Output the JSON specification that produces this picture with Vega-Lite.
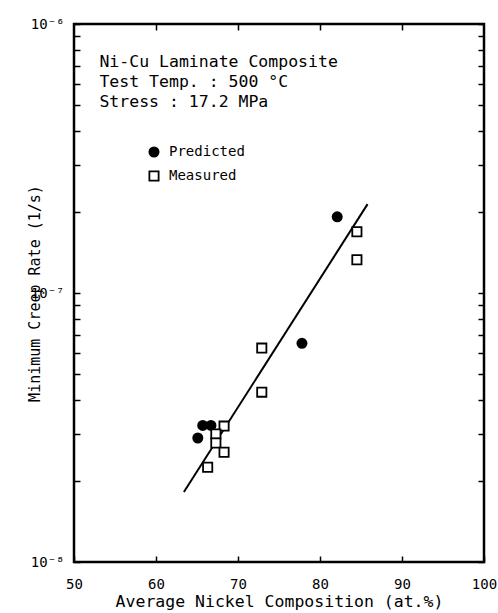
{
  "$schema": "https://vega.github.io/schema/vega-lite/v6.json",
  "width": 410,
  "height": 538,
  "autosize": {"type": "none"},
  "padding": {"left": 74, "top": 24, "right": 14, "bottom": 51},
  "background": "white",
  "config": {
    "view": {"stroke": "black", "strokeWidth": 2.5},
    "font": "DejaVu Sans Mono",
    "axis": {
      "domain": false,
      "grid": false,
      "tickColor": "black",
      "tickWidth": 1.5,
      "tickSize": -6,
      "labelColor": "black",
      "labelFont": "DejaVu Sans Mono",
      "labelFontSize": 14,
      "labelOverlap": false,
      "labelFlush": false,
      "titleColor": "black",
      "titleFont": "DejaVu Sans Mono",
      "titleFontWeight": "normal"
    }
  },
  "datasets": {
    "fit": [
      {"ni": 63.4, "rate": 1.82e-8},
      {"ni": 85.8, "rate": 2.14e-7}
    ],
    "points": [
      {"series": "Predicted", "ni": 82.1, "rate": 1.92e-7},
      {"series": "Predicted", "ni": 77.8, "rate": 6.5e-8},
      {"series": "Predicted", "ni": 65.7, "rate": 3.22e-8},
      {"series": "Predicted", "ni": 66.7, "rate": 3.22e-8},
      {"series": "Predicted", "ni": 65.1, "rate": 2.89e-8},
      {"series": "Measured", "ni": 84.5, "rate": 1.69e-7},
      {"series": "Measured", "ni": 84.5, "rate": 1.33e-7},
      {"series": "Measured", "ni": 72.9, "rate": 6.24e-8},
      {"series": "Measured", "ni": 72.9, "rate": 4.28e-8},
      {"series": "Measured", "ni": 68.3, "rate": 3.2e-8},
      {"series": "Measured", "ni": 67.3, "rate": 2.99e-8},
      {"series": "Measured", "ni": 67.3, "rate": 2.77e-8},
      {"series": "Measured", "ni": 68.3, "rate": 2.56e-8},
      {"series": "Measured", "ni": 66.3, "rate": 2.25e-8}
    ],
    "notes": [
      {"ni": 53.1, "rate": 7.2e-7, "label": "Ni-Cu Laminate Composite"},
      {"ni": 53.1, "rate": 6.1e-7, "label": "Test Temp. : 500 °C"},
      {"ni": 53.1, "rate": 5.13e-7, "label": "Stress : 17.2 MPa"}
    ]
  },
  "layer": [
    {
      "data": {"name": "fit"},
      "mark": {"type": "line", "color": "black", "strokeWidth": 2},
      "encoding": {
        "x": {
          "field": "ni", "type": "quantitative",
          "scale": {"domain": [50, 100], "nice": false, "zero": false},
          "axis": {
            "orient": "bottom",
            "values": [50, 60, 70, 80, 90, 100],
            "labelPadding": 21,
            "title": "Average Nickel Composition (at.%)",
            "titleFontSize": 16.5,
            "titlePadding": 2
          }
        },
        "y": {
          "field": "rate", "type": "quantitative",
          "scale": {"type": "log", "domain": [1e-8, 1e-6], "nice": false},
          "axis": {
            "orient": "left",
            "values": [1e-8, 2e-8, 3e-8, 4e-8, 5e-8, 6e-8, 7e-8, 8e-8, 9e-8, 1e-7, 2e-7, 3e-7, 4e-7, 5e-7, 6e-7, 7e-7, 8e-7, 9e-7, 1e-6],
            "labelExpr": "abs(log(datum.value)/LN10 + 6) < 0.01 ? '10⁻⁶' : abs(log(datum.value)/LN10 + 7) < 0.01 ? '10⁻⁷' : abs(log(datum.value)/LN10 + 8) < 0.01 ? '10⁻⁸' : ''",
            "labelPadding": 16,
            "title": "Minimum Creep Rate (1/s)",
            "titleFontSize": 15,
            "titlePadding": -12
          }
        }
      }
    },
    {
      "data": {"name": "points"},
      "mark": {"type": "point", "filled": false, "opacity": 1, "strokeWidth": 1.8, "stroke": "black"},
      "encoding": {
        "x": {
          "field": "ni", "type": "quantitative",
          "axis": {"orient": "top", "values": [60, 70, 80, 90], "labels": false, "title": null}
        },
        "y": {
          "field": "rate", "type": "quantitative",
          "axis": {
            "orient": "right",
            "values": [1e-8, 2e-8, 3e-8, 4e-8, 5e-8, 6e-8, 7e-8, 8e-8, 9e-8, 1e-7, 2e-7, 3e-7, 4e-7, 5e-7, 6e-7, 7e-7, 8e-7, 9e-7, 1e-6],
            "labels": false,
            "title": null
          }
        },
        "shape": {
          "field": "series", "type": "nominal",
          "scale": {"domain": ["Predicted", "Measured"], "range": ["circle", "square"]},
          "legend": {
            "orient": "none", "legendX": 73, "legendY": 121, "title": null,
            "labelFontSize": 14, "labelColor": "black", "labelFont": "DejaVu Sans Mono",
            "symbolSize": 85, "symbolStrokeWidth": 1.8,
            "rowPadding": 6, "padding": 0, "labelOffset": 8
          }
        },
        "fill": {
          "field": "series", "type": "nominal",
          "scale": {"domain": ["Predicted", "Measured"], "range": ["black", "white"]},
          "legend": {
            "orient": "none", "legendX": 73, "legendY": 121, "title": null,
            "labelFontSize": 14, "labelColor": "black", "labelFont": "DejaVu Sans Mono",
            "symbolSize": 85, "symbolStrokeWidth": 1.8,
            "rowPadding": 6, "padding": 0, "labelOffset": 8
          }
        },
        "stroke": {"value": "black"},
        "size": {"value": 85}
      }
    },
    {
      "data": {"name": "notes"},
      "mark": {"type": "text", "align": "left", "baseline": "middle", "fontSize": 16.5, "font": "DejaVu Sans Mono", "color": "black"},
      "encoding": {
        "x": {"field": "ni", "type": "quantitative", "axis": null},
        "y": {"field": "rate", "type": "quantitative", "axis": null},
        "text": {"field": "label"}
      }
    }
  ],
  "resolve": {"axis": {"x": "independent", "y": "independent"}}
}
